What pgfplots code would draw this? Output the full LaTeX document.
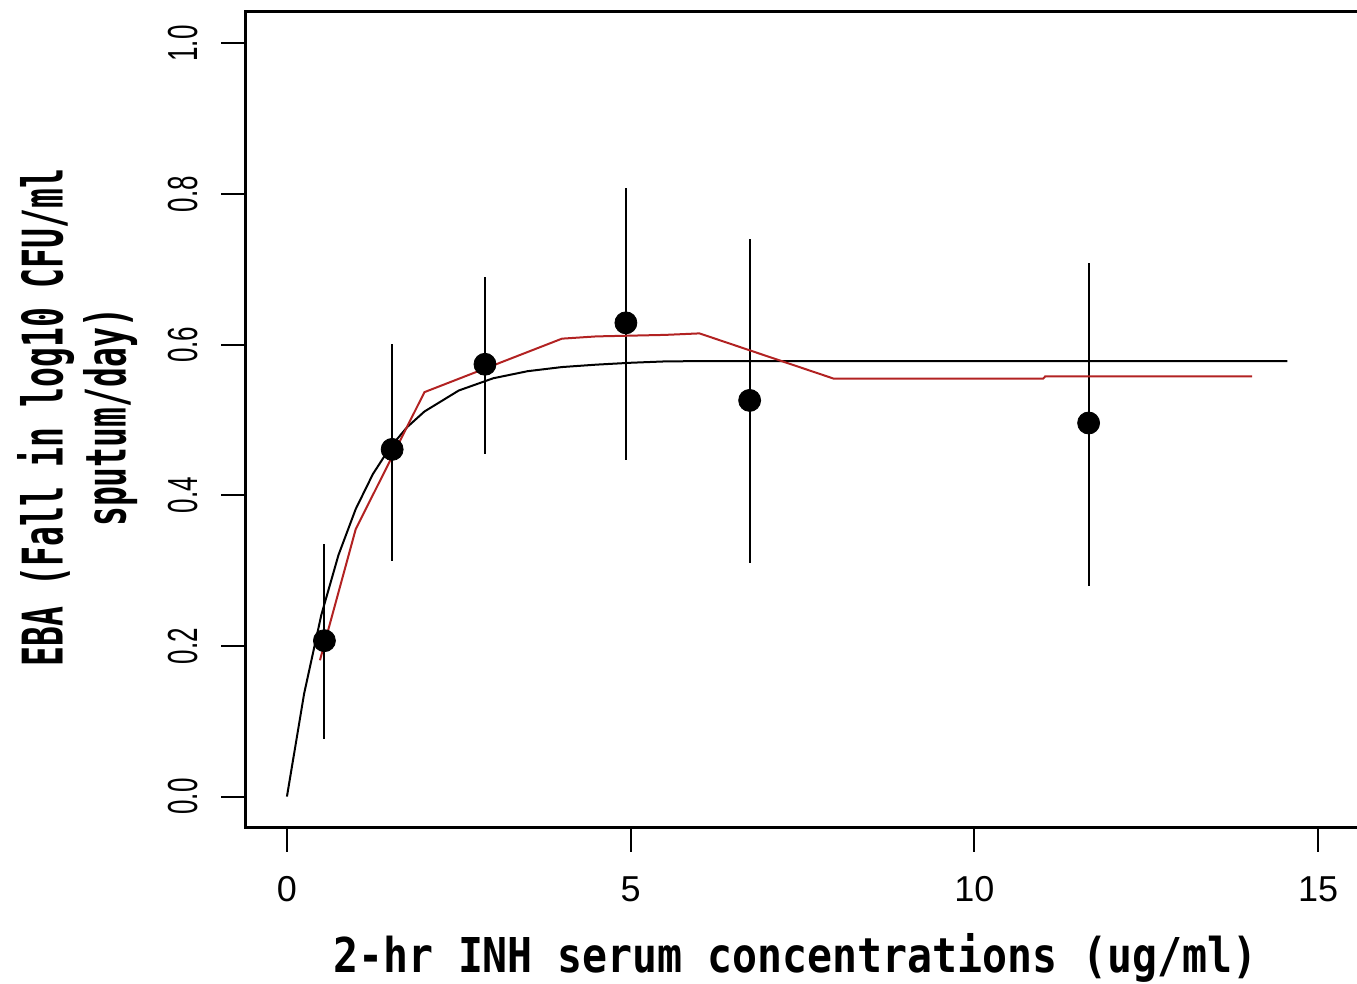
\documentclass[border=0pt]{standalone}
\usepackage{fontspec}
\usepackage{pgfplots}
\pgfplotsset{compat=1.18}
\setmainfont{Liberation Sans}
\newfontfamily\xlabfont[FakeStretch=0.865]{DejaVu Sans Mono Bold}
\newfontfamily\ylabfont[FakeStretch=0.59]{DejaVu Sans Mono Bold}
\newfontfamily\xtickfont{Liberation Sans}
\newfontfamily\ytickfont[FakeStretch=0.62]{Liberation Sans}
\definecolor{fitred}{RGB}{178,34,34}
\pgfplotstableread{
x     y      ep     em
0.545 0.207  0.128  0.130
1.53  0.461  0.140  0.148
2.88  0.574  0.116  0.119
4.93  0.629  0.179  0.182
6.73  0.526  0.214  0.216
11.66 0.496  0.213  0.217
}\obs
\begin{document}
\begin{tikzpicture}
\begin{axis}[
  at={(0,0)}, anchor=south west,
  scale only axis,
  width=557pt, height=408.1pt,
  xmin=-0.603, xmax=15.6,
  ymin=-0.0417, ymax=1.042,
  xtick={0,5,10,15},
  ytick={0,0.2,0.4,0.6,0.8,1.0},
  tick pos=left,
  tick align=outside,
  major tick length=12pt,
  major tick style={line width=1pt, black},
  axis line style={line width=1.5pt},
  xticklabel style={font=\fontsize{18}{18}\xtickfont, anchor=north, inner sep=0pt, yshift=-12pt},
  xticklabel={\pgfmathprintnumber[assume math mode=true]{\tick}},
  yticklabel={\rotatebox{90}{\pgfmathprintnumber[fixed,zerofill,precision=1,assume math mode=true]{\tick}}},
  yticklabel style={font=\fontsize{21}{21}\ytickfont, anchor=east, inner sep=0pt, xshift=-11.75pt},
  xlabel={2-hr INH serum concentrations (ug/ml)},
  xlabel style={font=\fontsize{24}{24}\xlabfont, at={(axis description cs:0.4937,0)}, anchor=base, yshift=-72.3pt, inner sep=0pt},
  ylabel={EBA (Fall in log10 CFU/ml\\sputum/day)},
  ylabel style={font=\fontsize{28}{31.5}\ylabfont, align=center, at={(axis description cs:-0.1510,0.503)}, anchor=center, inner sep=0pt},
  clip=false,
]
\addplot[only marks, mark=*, mark size=5.5pt, black, mark options={fill=black},
  error bars/.cd, y dir=both, y explicit, error mark=none,
  error bar style={line width=1pt, black}]
  table[x=x, y=y, y error plus=ep, y error minus=em] {\obs};
\addplot[black, line width=1pt] coordinates {
 (0,0) (0.25,0.1368) (0.5,0.2412) (0.75,0.3209) (1.0,0.3817) (1.25,0.4282)
 (1.5,0.4636) (1.75,0.4907) (2.0,0.5113) (2.5,0.5392) (3.0,0.5554)
 (3.5,0.5648) (4.0,0.5703) (4.5,0.5735) (5.0,0.5760) (5.5,0.5778) (6.0,0.5782) (14.55,0.5782)
};
\addplot[fitred, line width=1pt] coordinates {
 (0.48,0.181) (1.0,0.355) (2.0,0.537) (4.0,0.608) (4.5,0.611) (5.5,0.613)
 (6.0,0.615) (7.95,0.555) (11.0,0.555) (11.03,0.558) (14.04,0.558)
};
\end{axis}
\pgfresetboundingbox
\path[use as bounding box] (-122.75pt,-78pt) rectangle (555.75pt,414pt);
\end{tikzpicture}
\end{document}
